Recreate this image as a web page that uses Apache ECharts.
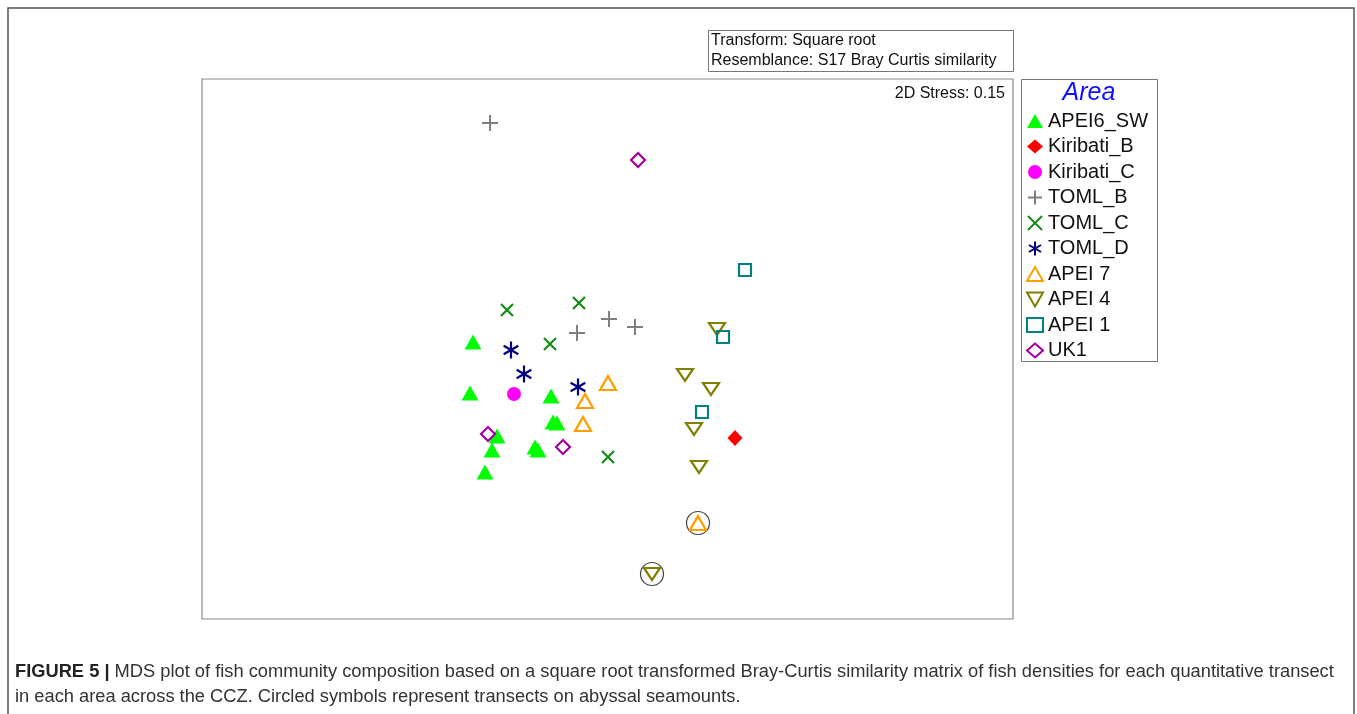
<!DOCTYPE html>
<html>
<head>
<meta charset="utf-8">
<style>
html,body{margin:0;padding:0;background:#fff;}
#chart{width:1357px;height:714px;}
</style>
<script src="https://cdn.jsdelivr.net/npm/echarts@6/dist/echarts.min.js"></script>
</head>
<body>
<div id="chart"></div>
<script>
// MDS ordination coordinates (arbitrary units)
const areas = ['APEI6_SW','Kiribati_B','Kiribati_C','TOML_B','TOML_C','TOML_D','APEI 7','APEI 4','APEI 1','UK1'];
const apei6sw = [[27.1,27.7],[26.8,22.6],[34.9,22.3],[35.1,19.7],[35.5,19.6],[29.5,18.3],[29.0,16.9],[28.3,14.7],[33.3,17.2],[33.6,16.9]];
const kiribatiB = [[53.3,18.1]];
const kiribatiC = [[31.2,22.5]];
const tomlB = [[28.8,49.6],[37.5,28.6],[40.7,30.0],[43.3,29.2]];
const tomlC = [[30.5,30.9],[37.7,31.6],[34.8,27.5],[40.6,16.2]];
const tomlD = [[30.9,26.9],[32.2,24.5],[37.6,23.2]];
const apei7 = [[40.6,23.6],[38.3,21.8],[38.1,19.5],[49.6,9.6]];
const apei4 = [[51.5,29.0],[48.3,24.4],[50.9,23.0],[49.2,19.0],[49.7,15.2],[45.0,4.5]];
const apei1 = [[54.3,34.9],[52.1,28.2],[50.0,20.7]];
const uk1 = [[43.6,45.9],[28.6,18.5],[36.1,17.2]];
const seamounts = [[49.6,9.6],[45.0,4.5]];
const stressText = '2D Stress: 0.15';
const transformLines = ['Transform: Square root','Resemblance: S17 Bray Curtis similarity'];
const captionBold = 'FIGURE 5 | ';
const captionLine1 = 'MDS plot of fish community composition based on a square root transformed Bray-Curtis similarity matrix of fish densities for each quantitative transect';
const captionLine2 = 'in each area across the CCZ. Circled symbols represent transects on abyssal seamounts.';

const PLUS = 'path://M0,5 L10,5 M5,0 L5,10';
const CROSS = 'path://M0,0 L10,10 M10,0 L0,10';
const STAR = 'path://M5,0 L5,10 M0.67,2.5 L9.33,7.5 M0.67,7.5 L9.33,2.5';
const DOWN_TRI = 'path://M0,0 L10,0 L5,8.66 Z';

function filled(name, data, symbol, size, color){
  return {name, type:'scatter', data, symbol, symbolSize:size,
    itemStyle:{color, opacity:1}, emphasis:{disabled:true}};
}
function outline(name, data, symbol, size, color, width){
  return {name, type:'scatter', data, symbol, symbolSize:size, symbolKeepAspect:true,
    itemStyle:{color:'rgba(255,255,255,0)', borderColor:color, borderWidth:width||2, opacity:1}, emphasis:{disabled:true}};
}

const series = [
  filled('APEI6_SW', apei6sw, 'triangle', [17,15], '#00FF00'),
  filled('Kiribati_B', kiribatiB, 'diamond', [15,16], '#FF0000'),
  filled('Kiribati_C', kiribatiC, 'circle', 14, '#FF00FF'),
  outline('TOML_B', tomlB, PLUS, 16, '#808080', 2),
  outline('TOML_C', tomlC, CROSS, 12, '#168C16', 2.2),
  outline('TOML_D', tomlD, STAR, 17, '#000080', 2.2),
  outline('APEI 7', apei7, 'triangle', [16,14], '#FFA000', 2.2),
  outline('APEI 4', apei4, DOWN_TRI, [16,14], '#808000', 2.2),
  outline('APEI 1', apei1, 'rect', 12, '#008080', 2.2),
  outline('UK1', uk1, 'diamond', 14, '#A000A0', 2.2),
  {name:'seamount', type:'scatter', data:seamounts, symbol:'circle', symbolSize:23, z:1,
    itemStyle:{color:'rgba(255,255,255,0)', borderColor:'#111', borderWidth:1.2}, emphasis:{disabled:true}}
];

const chart = echarts.init(document.getElementById('chart'), null, {renderer:'canvas'});
chart.setOption({
  animation:false,
  backgroundColor:'#fff',
  grid:{left:202, top:79, width:811, height:540, show:true, borderColor:'#8a8a8a', borderWidth:1.2, containLabel:false},
  xAxis:{type:'value', min:0, max:81.1, show:false},
  yAxis:{type:'value', min:0, max:54, show:false},
  legend:{
    data:areas, orient:'vertical', left:1026, top:111, itemWidth:16, itemHeight:14, itemGap:5.5,
    selectedMode:false, padding:0,
    textStyle:{fontFamily:'Liberation Sans', fontSize:20, color:'#111', lineHeight:20}
  },
  graphic:[
    {type:'rect', shape:{x:8, y:8, width:1346, height:720}, style:{fill:'none', stroke:'#555', lineWidth:1.5}, silent:true, z:-10},
    {type:'rect', shape:{x:708.5, y:30.5, width:305, height:41}, style:{fill:'#fff', stroke:'#777', lineWidth:1}, silent:true},
    {type:'text', left:711, top:31, style:{text:transformLines.join('\n'), fontFamily:'Liberation Sans', fontSize:16, lineHeight:20, fill:'#111'}, silent:true},
    {type:'rect', shape:{x:1021.5, y:79.5, width:136, height:282}, style:{fill:'none', stroke:'#777', lineWidth:1}, silent:true},
    {type:'text', x:1089, y:93, style:{text:'Area', fontFamily:'Liberation Sans', fontSize:25, fontStyle:'italic', fill:'#1010FF', align:'center', verticalAlign:'middle'}, silent:true},
    {type:'text', x:1005, y:94, style:{text:stressText, fontFamily:'Liberation Sans', fontSize:16, fill:'#111', align:'right', verticalAlign:'middle'}, silent:true},
    {type:'text', x:15, y:672, style:{
      text:'{b|'+captionBold+'}{r|'+captionLine1+'}',
      rich:{b:{fontFamily:'Liberation Sans', fontWeight:'bold', fontSize:18.3, fill:'#222'},
            r:{fontFamily:'Liberation Sans', fontSize:18.3, fill:'#333'}},
      verticalAlign:'middle'}, silent:true},
    {type:'text', x:15, y:697, style:{text:captionLine2, fontFamily:'Liberation Sans', fontSize:18.3, fill:'#333', verticalAlign:'middle'}, silent:true}
  ],
  series
});
</script>
</body>
</html>
